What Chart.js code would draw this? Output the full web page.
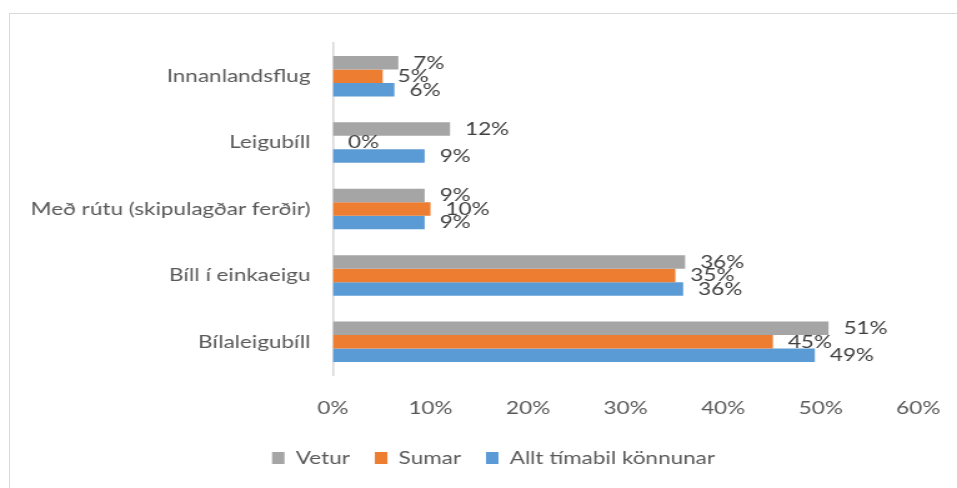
<!DOCTYPE html>
<html><head><meta charset="utf-8">
<script src="https://cdn.jsdelivr.net/npm/chart.js@4.4.0/dist/chart.umd.min.js"></script>
<style>
html,body{margin:0;padding:0;background:#fff;width:957px;height:488px;overflow:hidden}
#frame{position:absolute;left:9px;top:13px;width:960px;height:490px;border:1px solid #d9d9d9;box-sizing:border-box}
#wrap{position:absolute;left:0;top:0;width:766px;height:488px;transform:scaleX(1.24935);transform-origin:0 0}
</style></head><body>
<div id="frame"></div>
<div id="wrap"><canvas id="c" width="766" height="488"></canvas></div>
<script>
const categories = ['Innanlandsflug', 'Leigubíll', 'Með rútu (skipulagðar ferðir)', 'Bíll í einkaeigu', 'Bílaleigubíll'];
const seriesNames = ['Vetur', 'Sumar', 'Allt tímabil könnunar'];
const vetur = [6.7, 12.0, 9.4, 36.1, 50.8];
const sumar = [5.1, 0, 10.0, 35.1, 45.1];
const allt = [6.3, 9.4, 9.4, 35.9, 49.4];
const xTicks = [0, 10, 20, 30, 40, 50, 60];
const colors = ['#A5A5A5', '#ED7D31', '#5B9BD5'];

const FONT = 'Lato';
const FS = 18;

const valueLabels = {
  id: 'valueLabels',
  afterDatasetsDraw(chart) {
    const ctx = chart.ctx;
    ctx.save();
    ctx.font = FS + 'px ' + FONT;
    ctx.fillStyle = '#404040';
    ctx.textAlign = 'left';
    ctx.textBaseline = 'middle';
    chart.data.datasets.forEach((ds, i) => {
      const meta = chart.getDatasetMeta(i);
      meta.data.forEach((el, j) => {
        ctx.fillText(Math.round(ds.data[j]) + '%', el.x + 12, el.y);
      });
    });
    ctx.restore();
  }
};

const legendShift = {
  id: 'legendShift',
  afterLayout(chart) {
    const l = chart.legend;
    if (l) { l.left += 27.5; l.right += 27.5; }
  }
};

function draw() {
  new Chart(document.getElementById('c'), {
    type: 'bar',
    data: {
      labels: categories,
      datasets: [vetur, sumar, allt].map((d, i) => ({
        label: seriesNames[i],
        data: d,
        backgroundColor: colors[i],
        borderWidth: 0
      }))
    },
    options: {
      responsive: false,
      animation: false,
      indexAxis: 'y',
      layout: { padding: { left: 0, right: 31, top: 43, bottom: 11 } },
      datasets: { bar: { categoryPercentage: 0.61, barPercentage: 1 } },
      scales: {
        x: {
          min: xTicks[0], max: xTicks[xTicks.length - 1],
          afterBuildTicks(s) { s.ticks = xTicks.map(v => ({ value: v })); },
          ticks: { callback: v => v + '%', color: '#595959', font: { family: FONT, size: FS }, padding: 22, maxRotation: 0 },
          grid: { display: false, drawTicks: false },
          border: { display: false },
          afterFit(s) { s.height = 54; s.paddingLeft = 0; s.paddingRight = 0; }
        },
        y: {
          ticks: { color: '#595959', font: { family: FONT, size: FS }, padding: 18 },
          grid: { display: false, drawTicks: false },
          border: { display: true, color: '#d9d9d9', width: 1.6 },
          afterFit(s) { s.width = 266.5; }
        }
      },
      plugins: {
        legend: {
          position: 'bottom',
          labels: { boxWidth: 10, boxHeight: 12, padding: 20, color: '#595959', font: { family: FONT, size: FS } }
        },
        tooltip: { enabled: false }
      }
    },
    plugins: [valueLabels, legendShift]
  });
}
if (document.fonts && document.fonts.load) {
  document.fonts.load(FS + 'px ' + FONT).then(draw, draw);
} else { draw(); }
</script>
</body></html>
